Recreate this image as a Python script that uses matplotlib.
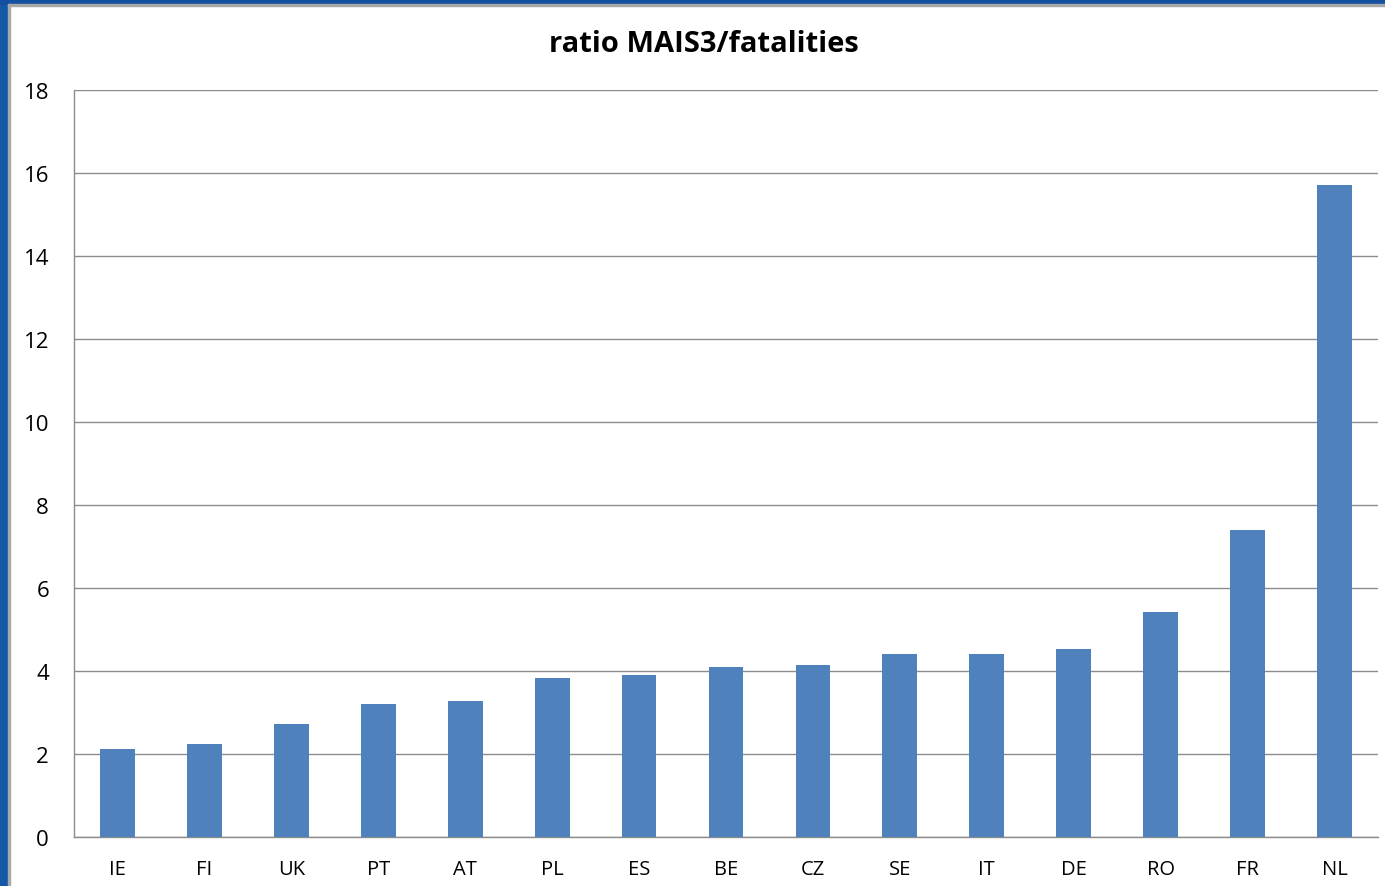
import matplotlib.pyplot as plt
from matplotlib.patches import Rectangle

countries = ["IE", "FI", "UK", "PT", "AT", "PL", "ES", "BE", "CZ", "SE", "IT", "DE", "RO", "FR", "NL"]
ratio = [2.12, 2.25, 2.72, 3.2, 3.28, 3.83, 3.9, 4.1, 4.14, 4.41, 4.41, 4.54, 5.42, 7.4, 15.72]

plt.rcParams["font.family"] = ["Open Sans", "DejaVu Sans"]

W, H = 1385, 887
fig = plt.figure(figsize=(W / 100, H / 100), dpi=100)

# slide background border (blue frame on left/top)
fig.patches.append(Rectangle((0, 0), 8 / W, 1, transform=fig.transFigure,
                             color="#1458a8", zorder=0))
fig.patches.append(Rectangle((0, 1 - 5 / H), 1, 5 / H, transform=fig.transFigure,
                             color="#1450a0", zorder=0))
fig.patches.append(Rectangle((8 / W, 0), 2 / W, 1 - 5 / H, transform=fig.transFigure,
                             color="#a8a8a8", zorder=0))
fig.patches.append(Rectangle((8 / W, 1 - 7 / H), 1, 2 / H, transform=fig.transFigure,
                             color="#a8a8a8", zorder=0))

ax = fig.add_axes([74 / W, (H - 838) / H, (1378 - 74) / W, (838 - 91) / H])
x = range(len(countries))
ax.bar(x, ratio, width=0.4, color="#4f81bd", zorder=3)

ax.set_xlim(-0.5, len(countries) - 0.5)
ax.set_ylim(0, 18)
ax.set_yticks(range(0, 19, 2))
ax.set_xticks(list(x))
ax.set_xticklabels(countries)
ax.yaxis.grid(True, color="#8c8c8c", linewidth=1, zorder=0)
ax.tick_params(axis="y", length=0, pad=18, labelsize=16)
ax.tick_params(axis="x", length=0, pad=16, labelsize=14.5)
for s in ["top", "right"]:
    ax.spines[s].set_visible(False)
for s in ["left", "bottom"]:
    ax.spines[s].set_color("#8c8c8c")
    ax.spines[s].set_linewidth(1)

fig.text(704 / W, 1 - 45 / H, "ratio MAIS3/fatalities", ha="center", va="center",
         fontsize=21, fontweight="bold")

fig.savefig("out.png", dpi=100)
